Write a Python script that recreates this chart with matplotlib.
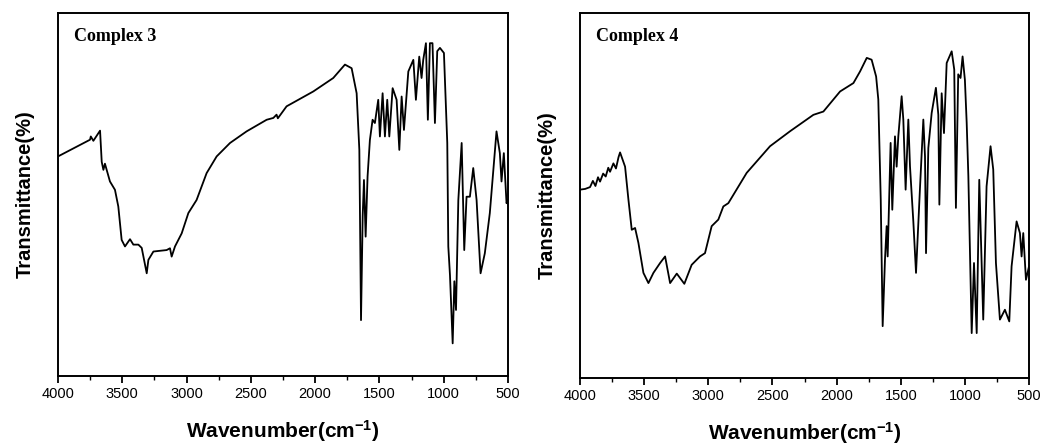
import numpy as np
import matplotlib
matplotlib.use("Agg")
import matplotlib.pyplot as plt
from matplotlib.ticker import MultipleLocator

plt.rcParams["mathtext.fontset"] = "custom"
plt.rcParams["mathtext.rm"] = "Liberation Sans:bold"
plt.rcParams["mathtext.bf"] = "Liberation Sans:bold"
plt.rcParams["mathtext.default"] = "bf"

# Complex 3 (wavenumber, relative transmittance)
wn3 = [4000, 3751, 3745, 3725, 3673, 3660, 3647, 3635, 3596, 3557, 3531, 3505, 3479,
       3440, 3414, 3375, 3349, 3310, 3297, 3258, 3155, 3129, 3116, 3090, 3038, 2986,
       2922, 2844, 2766, 2662, 2533, 2377, 2325, 2300, 2290, 2222, 2014, 1859, 1768,
       1716, 1677, 1656, 1643, 1630, 1620, 1607, 1592, 1574, 1553, 1535, 1509, 1496,
       1475, 1457, 1439, 1423, 1397, 1366, 1345, 1327, 1309, 1275, 1236, 1216, 1190,
       1172, 1159, 1138, 1123, 1107, 1087, 1068, 1050, 1029, 998, 972, 964, 951, 930,
       917, 904, 886, 860, 840, 822, 796, 770, 744, 713, 680, 641, 589, 563, 550, 532,
       511, 500]
tr3 = [60.5, 65.1, 66.0, 64.8, 67.6, 59.0, 56.8, 58.5, 53.6, 51.3, 46.7, 37.5, 35.7,
       37.7, 36.2, 36.2, 35.3, 28.3, 32.0, 34.3, 34.7, 35.2, 32.9, 35.7, 39.3, 44.9,
       48.5, 55.9, 60.5, 64.2, 67.4, 70.6, 71.1, 72.0, 71.0, 74.3, 78.4, 82.1, 85.8,
       84.8, 77.9, 62.3, 15.4, 44.1, 54.0, 38.4, 55.0, 65.0, 70.6, 69.7, 76.1, 66.0,
       77.9, 66.0, 76.1, 66.0, 79.3, 76.1, 62.3, 77.0, 67.8, 83.9, 87.1, 76.1, 88.0,
       82.1, 87.1, 91.7, 70.6, 91.7, 91.7, 69.7, 89.5, 90.4, 89.0, 64.2, 35.7, 27.8,
       9.0, 26.1, 18.2, 48.5, 64.2, 34.7, 49.4, 49.4, 57.3, 48.5, 28.3, 33.8, 44.9,
       67.4, 61.4, 53.6, 61.4, 47.6, 48.5]

# Complex 4
wn4 = [4000, 3960, 3922, 3900, 3880, 3860, 3844, 3820, 3800, 3780, 3766, 3740, 3720,
       3700, 3688, 3670, 3649, 3623, 3597, 3571, 3545, 3506,
       3467, 3428, 3376, 3337, 3298, 3246, 3187, 3130, 3065, 3026, 2974, 2922, 2883,
       2844, 2701, 2519, 2363, 2181, 2103, 1973, 1869, 1817, 1765, 1727, 1692, 1675,
       1656, 1641, 1623, 1610, 1602, 1579, 1566, 1545, 1532, 1519, 1493, 1480, 1462,
       1441, 1428, 1402, 1381, 1350, 1324, 1311, 1303, 1285, 1259, 1226, 1207, 1199,
       1181, 1163, 1142, 1103, 1083, 1070, 1052, 1034, 1018, 1000, 986, 973, 947, 929,
       908, 888, 857, 831, 800, 779, 758, 727, 688, 654, 636, 597, 571, 558, 545, 524,
       500]
tr4 = [51.6, 51.8, 52.3, 54.0, 52.6, 55.0, 53.8, 56.0, 55.2, 57.6, 56.5, 58.8, 57.4,
       60.5, 61.8, 60.0, 57.9, 48.9, 40.6, 41.1, 37.0, 28.8,
       26.0, 28.8, 31.5, 33.3, 26.0, 28.6, 25.8, 31.0, 33.3, 34.2, 41.6, 43.4, 47.0,
       47.9, 56.2, 63.5, 67.6, 72.1, 73.0, 78.5, 80.8, 84.0, 87.7, 87.2, 82.6, 76.3,
       48.9, 14.2, 32.4, 41.6, 33.3, 64.4, 46.1, 66.2, 57.9, 66.2, 77.2, 70.8, 51.6,
       70.8, 58.0, 42.9, 28.8, 52.1, 70.8, 60.7, 34.2, 63.0, 72.6, 79.5, 72.1, 47.5,
       78.0, 67.1, 86.3, 89.5, 84.5, 46.6, 83.2, 82.2, 88.1, 81.7, 69.9, 55.3, 12.3,
       31.5, 12.3, 54.3, 16.0, 52.5, 63.5, 57.1, 31.5, 16.0, 18.7, 15.5, 30.6, 42.9,
       39.7, 33.3, 39.7, 26.9, 30.6]

labels = ["Complex 3", "Complex 4"]
xticks = [4000, 3500, 3000, 2500, 2000, 1500, 1000, 500]

fig = plt.figure(figsize=(10.51, 4.45), dpi=100)
ax1 = fig.add_axes([0.0552, 0.155, 0.4281, 0.8157])
ax2 = fig.add_axes([0.5519, 0.1506, 0.4272, 0.8202])

for ax, wn, tr, lab in [(ax1, wn3, tr3, labels[0]), (ax2, wn4, tr4, labels[1])]:
    ax.plot(wn, tr, color="black", lw=1.3)
    ax.set_xlim(4000, 500)
    ax.set_ylim(0, 100)
    ax.set_xticks(xticks)
    ax.xaxis.set_minor_locator(MultipleLocator(250))
    ax.set_yticks([])
    ax.tick_params(axis="x", which="major", direction="out", length=5, width=1.3,
                   labelsize=10.5, pad=3)
    ax.tick_params(axis="x", which="minor", direction="out", length=3, width=1.0)
    for tl in ax.get_xticklabels():
        tl.set_family("Liberation Sans")
    for s in ax.spines.values():
        s.set_linewidth(1.4)
    ax.set_xlabel("Wavenumber(cm$^{-1}$)", fontsize=15, fontweight="bold",
                  family="Liberation Sans", labelpad=12)
    ax.set_ylabel("Transmittance(%)", fontsize=14.5, fontweight="bold",
                  family="Liberation Sans", labelpad=17)
    ax.text(0.035, 0.935, lab, transform=ax.transAxes, fontsize=13,
            fontweight="bold", family="Liberation Serif", va="center", ha="left")

fig.savefig("out.png", dpi=100)
